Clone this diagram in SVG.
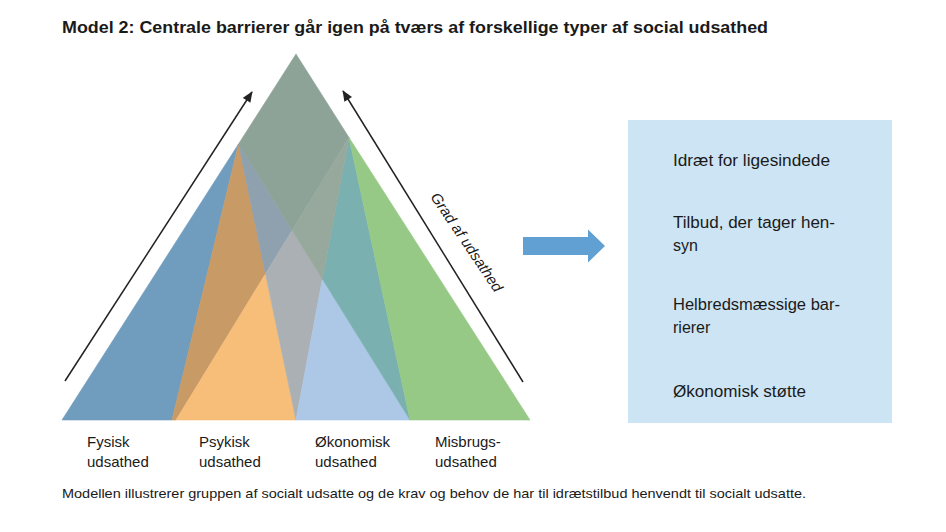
<svg xmlns="http://www.w3.org/2000/svg" width="946" height="532" viewBox="0 0 946 532">
  <defs>
    <style>
      .t { font-family: "Liberation Sans", Arial, sans-serif; fill: #1a1a1a; }
      .title { font-size: 17px; font-weight: bold; }
      .lbl { font-size: 15px; }
      .box { font-size: 16px; }
      .cap { font-size: 13px; }
      .seg { stroke-width: 0.6; stroke-linejoin: round; }
      .arr { stroke: #222; stroke-width: 1.5; fill: none; marker-end: url(#head); }
    </style>
    <marker id="head" viewBox="0 0 12 10" refX="11" refY="5" markerWidth="12" markerHeight="9" markerUnits="userSpaceOnUse" orient="auto">
      <path d="M0,0 L12,5 L0,10 Z" fill="#222"/>
    </marker>
  </defs>
  <rect width="946" height="532" fill="#ffffff"/>

  <text class="t title" x="62" y="33" textLength="706" lengthAdjust="spacingAndGlyphs">Model 2: Centrale barrierer går igen på tværs af forskellige typer af social udsathed</text>

  <g id="triangle">
    <polygon class="seg" fill="#709cbe" stroke="#709cbe" points="62,420 238.5,144 172,420"/>
    <polygon class="seg" fill="#c79a66" stroke="#c79a66" points="238.5,144 265.5,273.8 176,420 172,420"/>
    <polygon class="seg" fill="#f7be7a" stroke="#f7be7a" points="265.5,273.8 296,420 176,420"/>
    <polygon class="seg" fill="#8fa0af" stroke="#8fa0af" points="238.5,144 292.2,230.3 265.5,273.8"/>
    <polygon class="seg" fill="#8ea398" stroke="#8ea398" points="296,54 349,137.5 292.2,230.3 238.5,144"/>
    <polygon class="seg" fill="#aab0b4" stroke="#aab0b4" points="292.2,230.3 322.4,279.1 296,420 265.5,273.8"/>
    <polygon class="seg" fill="#acc8e6" stroke="#acc8e6" points="322.4,279.1 410,420 296,420"/>
    <polygon class="seg" fill="#7ab0b0" stroke="#7ab0b0" points="349,137.5 410,420 322.4,279.1"/>
    <polygon class="seg" fill="#97a89c" stroke="#97a89c" points="349,137.5 322.4,279.1 292.2,230.3"/>
    <polygon class="seg" fill="#97c986" stroke="#97c986" points="349,137.5 530,420 410,420"/>
  </g>

  <g id="connectors">
    <line class="arr" x1="65" y1="381" x2="252" y2="92"/>
    <line class="arr" x1="523" y1="382" x2="343" y2="91"/>
    <polygon id="block-arrow" fill="#61a0d2" points="523,237 588,237 588,229.5 605,246 588,262.5 588,255 523,255"/>
  </g>

  <g id="axis-label">
    <text class="t lbl" font-style="italic" text-anchor="middle" transform="translate(462.5,245) rotate(56)">Grad af udsathed</text>
  </g>

  <g id="label-fysisk">
    <text class="t lbl" x="87" y="447">Fysisk</text>
    <text class="t lbl" x="87" y="467">udsathed</text>
  </g>
  <g id="label-psykisk">
    <text class="t lbl" x="199" y="447">Psykisk</text>
    <text class="t lbl" x="199" y="467">udsathed</text>
  </g>
  <g id="label-okonomisk">
    <text class="t lbl" x="315" y="447">Økonomisk</text>
    <text class="t lbl" x="315" y="467">udsathed</text>
  </g>
  <g id="label-misbrug">
    <text class="t lbl" x="435" y="447">Misbrugs-</text>
    <text class="t lbl" x="435" y="467">udsathed</text>
  </g>

  <g id="barrier-box">
    <rect x="628" y="120" width="264" height="303" fill="#cde4f4"/>
    <text class="t box" x="673" y="166" textLength="157" lengthAdjust="spacingAndGlyphs">Idræt for ligesindede</text>
    <text class="t box" x="673" y="228" textLength="162" lengthAdjust="spacingAndGlyphs">Tilbud, der tager hen-</text>
    <text class="t box" x="673" y="251">syn</text>
    <text class="t box" x="673" y="310" textLength="167" lengthAdjust="spacingAndGlyphs">Helbredsmæssige bar-</text>
    <text class="t box" x="673" y="333">rierer</text>
    <text class="t box" x="673" y="397" textLength="133" lengthAdjust="spacingAndGlyphs">Økonomisk støtte</text>
  </g>

  <text class="t cap" x="62" y="498" textLength="744" lengthAdjust="spacingAndGlyphs">Modellen illustrerer gruppen af socialt udsatte og de krav og behov de har til idrætstilbud henvendt til socialt udsatte.</text>
</svg>
